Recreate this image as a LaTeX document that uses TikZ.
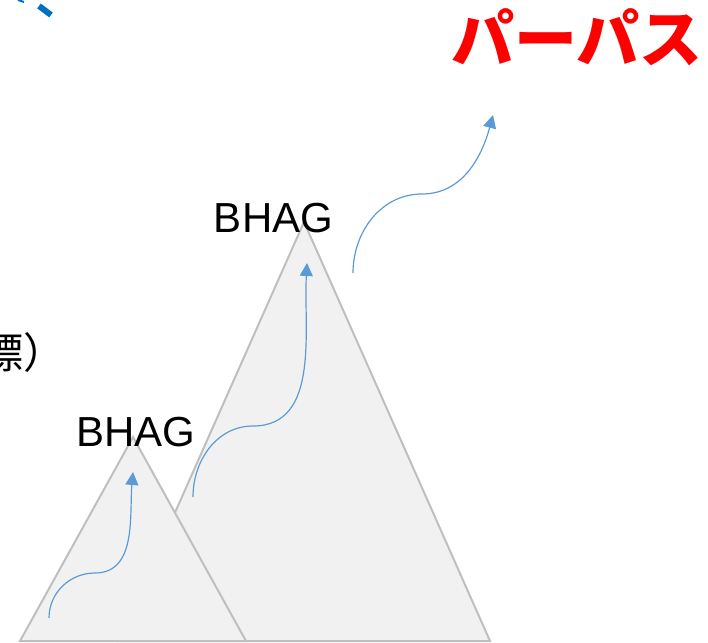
\documentclass[tikz,border=0pt]{standalone}
\usepackage{fontspec}
\setmainfont{Liberation Sans}
\newfontfamily\cjk{Noto Sans CJK JP}
\usetikzlibrary{arrows.meta}
\definecolor{mtnfill}{HTML}{F1F1F1}
\definecolor{mtnline}{HTML}{BFBFBF}
\definecolor{arrowblue}{HTML}{5B9BD5}
\definecolor{titleblue}{HTML}{0070C0}
\tikzset{
  mountain/.style={fill=mtnfill, draw=mtnline, line width=2pt, line join=miter},
  climb/.style={draw=arrowblue, line width=1.2pt, -{Triangle[width=13pt,length=13pt]}},
  goal/.style={font=\fontsize{42}{46}\selectfont, inner sep=0pt, anchor=base},
}
\begin{document}
\begin{tikzpicture}[x=1pt,y=1pt]
\useasboundingbox (0,0) rectangle (708,642);
\clip (0,0) rectangle (708,642);
% big mountain
\coordinate (bigL) at (118,1);
\coordinate (bigT) at (304,420);
\coordinate (bigR) at (490,1);
\path[mountain] (bigL) -- (bigT) -- (bigR) -- cycle;
% small mountain
\coordinate (smL) at (20,1);
\coordinate (smT) at (133,205);
\coordinate (smR) at (246,1);
\path[mountain] (smL) -- (smT) -- (smR) -- cycle;
% texts
\node[goal] (bhag1) at (136,195) {BHAG};
\node[goal] (bhag2) at (273.5,409) {BHAG};
\node[font=\cjk\bfseries\fontsize{63}{70}\selectfont, text=red, inner sep=0pt] (purpose) at (577,605) {パーパス};
\node[font=\cjk\fontsize{42}{46}\selectfont, inner sep=0pt, anchor=east] (goaltext) at (66,289.5) {目標）};
% blue fragment at top-left
\coordinate (fragA) at (39,636);
\coordinate (fragB) at (51,627);
\draw[titleblue, line width=6pt] (fragA) -- (fragB);
\coordinate (fragC) at (18,642);
\coordinate (fragD) at (24,640);
\draw[titleblue, line width=2pt] (fragC) -- (fragD);
% arrows
\coordinate (a1s) at (49,24);
\coordinate (a1m) at (95,69);
\coordinate (a1t) at (133,170);
\draw[climb] (a1s) to[out=90,in=180] (a1m) to[out=0,in=-95] (a1t);
\coordinate (a2s) at (193,145);
\coordinate (a2m) at (253,216);
\coordinate (a2t) at (307,379);
\draw[climb] (a2s) to[out=90,in=180] (a2m) to[out=0,in=-93] (a2t);
\coordinate (a3s) at (353,369);
\coordinate (a3m) at (422,448);
\coordinate (a3t) at (493,527);
\draw[climb] (a3s) to[out=90,in=180] (a3m) to[out=0,in=-105] (a3t);
\end{tikzpicture}
\end{document}
